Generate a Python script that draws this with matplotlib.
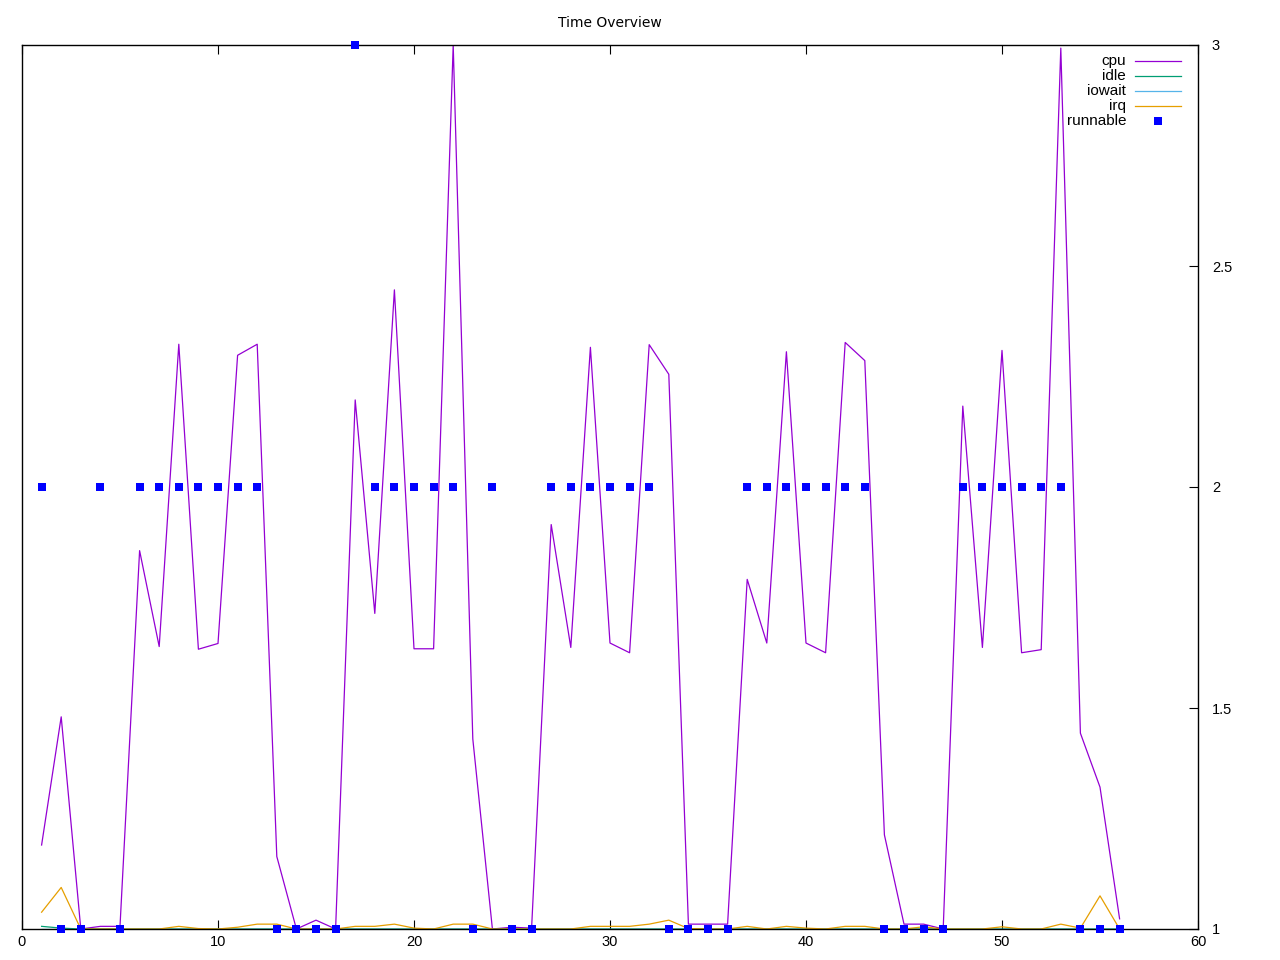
import numpy as np
import matplotlib
matplotlib.use("Agg")
import matplotlib.pyplot as plt

plt.rcParams['font.family'] = ['Liberation Sans', 'DejaVu Sans']

# time samples
t = list(range(1, 57))

cpu = [1.19, 1.48, 1.00, 1.006, 1.006, 1.856, 1.639, 2.323, 1.633, 1.646,
       2.298, 2.323, 1.164, 1.00, 1.02, 1.00, 2.197, 1.714, 2.446, 1.634,
       1.634, 3.00, 1.43, 1.00, 1.004, 1.002, 1.915, 1.637, 2.316, 1.647,
       1.625, 2.322, 2.255, 1.011, 1.011, 1.011, 1.791, 1.647, 2.306, 1.647,
       1.625, 2.327, 2.286, 1.213, 1.011, 1.011, 1.00, 2.183, 1.637, 2.309,
       1.625, 1.632, 2.993, 1.443, 1.321, 1.023]

idle = [1.006, 1.002] + [1.0] * 54

iowait = [1.0] * 56

irq = [1.038, 1.094, 1.0, 1.0, 1.0, 1.0, 1.0, 1.006, 1.001, 1.0,
       1.004, 1.011, 1.011, 1.0, 1.0, 1.0, 1.006, 1.006, 1.011, 1.002,
       1.0, 1.011, 1.011, 1.0, 1.0, 1.0, 1.0, 1.0, 1.006, 1.006,
       1.006, 1.011, 1.02, 1.001, 1.0, 1.0, 1.006, 1.0, 1.006, 1.002,
       1.0, 1.006, 1.006, 1.0, 1.0, 1.005, 1.0, 1.0, 1.0, 1.005,
       1.0, 1.0, 1.011, 1.002, 1.075, 1.0]

runnable = [2, 1, 1, 2, 1, 2, 2, 2, 2, 2,
            2, 2, 1, 1, 1, 1, 3, 2, 2, 2,
            2, 2, 1, 2, 1, 1, 2, 2, 2, 2,
            2, 2, 1, 1, 1, 1, 2, 2, 2, 2,
            2, 2, 2, 1, 1, 1, 1, 2, 2, 2,
            2, 2, 2, 1, 1, 1]

names = ['cpu', 'idle', 'iowait', 'irq']
colors = ['#9400d3', '#009e73', '#56b4e9', '#e69f00']

fig = plt.figure(figsize=(12.8, 9.6), dpi=100)
ax = fig.add_axes([22 / 1280, 31 / 960, 1176 / 1280, 884 / 960])

for series, c in zip([cpu, idle, iowait, irq], colors):
    ax.plot(t, series, color=c, lw=0.9)
ax.plot(t, runnable, 's', color='#0000ff', ms=5.2, mew=0, clip_on=False, zorder=4)

ax.set_xlim(0, 60)
ax.set_ylim(1, 3)
ax.set_xticks(range(0, 61, 10))
ax.set_yticks([1, 1.5, 2, 2.5, 3])
ax.set_yticklabels(['1', '1.5', '2', '2.5', '3'])
ax.tick_params(axis='x', direction='in', length=6.5, width=0.8, top=True,
               labelsize=10.5, pad=4)
ax.tick_params(axis='y', direction='in', length=6.5, width=0.8, left=False,
               labelleft=False, right=True, labelright=True, labelsize=10.5, pad=10)
for s in ax.spines.values():
    s.set_linewidth(1.0)
    s.set_zorder(3)

ax.set_title('Time Overview', fontsize=10, pad=13, family='DejaVu Sans')

# legend, gnuplot style: text right-aligned, sample on its right
row0 = (929 - 61) / 884
step = 15 / 884
xt = (1126 - 22) / 1176
x1, x2 = (1135 - 22) / 1176, (1181 - 22) / 1176
labels = names + ['runnable']
for i, lab in enumerate(labels):
    y = row0 - i * step
    ax.text(xt, y, lab, transform=ax.transAxes, ha='right', va='center', fontsize=11)
    if i < 4:
        ax.plot([x1, x2], [y, y], color=colors[i], lw=0.9, transform=ax.transAxes)
    else:
        ax.plot([(x1 + x2) / 2], [y], 's', color='#0000ff', ms=5.2, mew=0,
                transform=ax.transAxes)

fig.savefig('out.png', dpi=100)
